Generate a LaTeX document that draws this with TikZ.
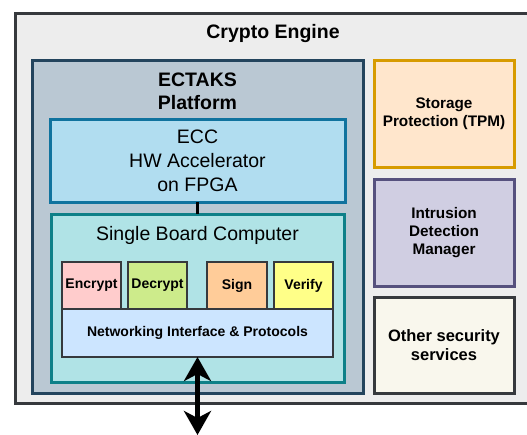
\documentclass[tikz,border=0pt]{standalone}
\usepackage{fontspec}
\setmainfont{Liberation Sans}
\usetikzlibrary{arrows.meta}
\definecolor{outerfill}{HTML}{EDEDED}
\definecolor{darkstroke}{HTML}{36393D}
\definecolor{ectfill}{HTML}{BAC8D3}
\definecolor{ectstroke}{HTML}{23445D}
\definecolor{eccfill}{HTML}{B1DDF0}
\definecolor{eccstroke}{HTML}{10739E}
\definecolor{sbcfill}{HTML}{B0E3E6}
\definecolor{sbcstroke}{HTML}{0E8088}
\definecolor{encfill}{HTML}{FFCCCC}
\definecolor{decfill}{HTML}{CDEB8B}
\definecolor{signfill}{HTML}{FFCC99}
\definecolor{verfill}{HTML}{FFFF88}
\definecolor{netfill}{HTML}{CCE5FF}
\definecolor{stofill}{HTML}{FFE6CC}
\definecolor{stostroke}{HTML}{D79B00}
\definecolor{idsfill}{HTML}{D0CEE2}
\definecolor{idsstroke}{HTML}{56517E}
\definecolor{othfill}{HTML}{F9F7ED}
\tikzset{
  box/.style={draw, rectangle, inner sep=0pt, outer sep=0pt, line width=3pt, align=center},
  smallbox/.style={box, line width=2pt, draw=darkstroke, font=\bfseries\fontsize{14}{16}\selectfont},
  sidebox/.style={box, minimum width=140pt, font=\bfseries\fontsize{15.3}{18}\selectfont},
  bigtitle/.style={inner sep=0pt, align=center, font=\fontsize{19.5}{23.5}\selectfont},
  bigtip/.tip={Stealth[width=27pt,length=24pt,inset=7pt]},
}
\begin{document}
\begin{tikzpicture}[x=1pt,y=-1pt]
\useasboundingbox (0,0) rectangle (527,434);
\clip (0,0) rectangle (527,434);
\node[box, draw=darkstroke, fill=outerfill, minimum width=530pt, minimum height=390.5pt] (outer) at (280,208.25) {};
\node[bigtitle, font=\bfseries\fontsize{19.5}{23.5}\selectfont, anchor=base] (ctitle) at (273,38) {Crypto Engine};
\node[box, draw=ectstroke, fill=ectfill, minimum width=331pt, minimum height=333pt] (ectaks) at (197.5,226.5) {};
\node[bigtitle, font=\bfseries\fontsize{19.5}{23}\selectfont] (ectitle) at (197.5,91) {ECTAKS\\Platform};
\node[box, draw=eccstroke, fill=eccfill, minimum width=295pt, minimum height=83pt, font=\fontsize{19.5}{24}\selectfont] (ecc) at (197.5,160.5) {ECC\\HW Accelerator\\on FPGA};
\node[box, draw=sbcstroke, fill=sbcfill, minimum width=293pt, minimum height=168pt] (sbc) at (197.5,298) {};
\node[bigtitle, anchor=base] (sbctitle) at (197.5,240) {Single Board Computer};
\node[smallbox, fill=encfill, minimum width=59pt, minimum height=47pt] (enc) at (91.5,285.5) {Encrypt};
\node[smallbox, fill=decfill, minimum width=59pt, minimum height=47pt] (dec) at (157.5,285.5) {Decrypt};
\node[smallbox, fill=signfill, minimum width=60pt, minimum height=47pt] (sign) at (237,285.5) {Sign};
\node[smallbox, fill=verfill, minimum width=59pt, minimum height=47pt] (ver) at (303.5,285.5) {Verify};
\node[smallbox, fill=netfill, minimum width=271pt, minimum height=48pt] (net) at (197.5,333) {Networking Interface \& Protocols};
\node[sidebox, draw=stostroke, fill=stofill, minimum height=107pt] (sto) at (444,113.5) {Storage\\Protection (TPM)};
\node[sidebox, draw=idsstroke, fill=idsfill, minimum height=107pt] (ids) at (444,232.5) {Intrusion\\Detection\\Manager};
\node[sidebox, draw=darkstroke, fill=othfill, minimum height=96pt, font=\bfseries\fontsize{16.5}{18.5}\selectfont] (oth) at (444,345) {Other security\\services};
\draw[line width=3pt] (ecc.south) -- (sbc.north);
\coordinate (ext) at (197.5,435);
\draw[line width=5pt, bigtip-bigtip] (net.south) -- (ext);
\end{tikzpicture}
\end{document}
